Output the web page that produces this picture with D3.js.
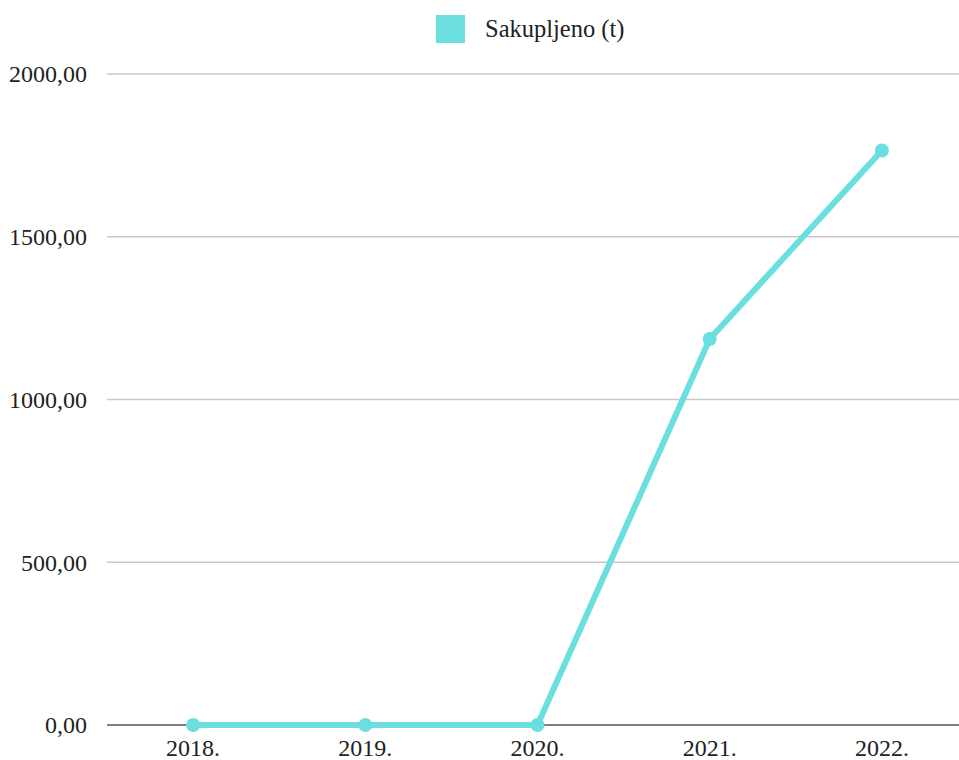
<!DOCTYPE html>
<html>
<head>
<meta charset="utf-8">
<script src="https://cdn.jsdelivr.net/npm/d3@7"></script>
<style>
  html, body { margin: 0; padding: 0; background: #fff; }
  svg { display: block; }
  text { font-family: "Liberation Serif", "Times New Roman", serif; fill: #222; }
</style>
</head>
<body>
<svg id="chart" width="959" height="760"></svg>
<script>
const categories = ["2018.", "2019.", "2020.", "2021.", "2022."];
const values = [0, 0, 0, 1186, 1765];
const yTicks = [0, 500, 1000, 1500, 2000];
const seriesName = "Sakupljeno (t)";
const color = "#6bdedf";

(function () {
const svg = d3.select("#chart");
const W = 959;
const plotLeft = 107, plotTop = 74, plotBottom = 725;
const serif = '"Liberation Serif", "Times New Roman", serif';

const x = d3.scaleBand().domain(categories).range([plotLeft, 968]);
const y = d3.scaleLinear().domain([0, 2000]).range([plotBottom, plotTop]);
const fmt = v => d3.format(".2f")(v).replace(".", ",");

// gridlines
svg.append("g")
  .selectAll("line")
  .data(yTicks.filter(d => d !== 0))
  .join("line")
  .attr("x1", plotLeft).attr("x2", W)
  .attr("y1", d => y(d)).attr("y2", d => y(d))
  .attr("stroke", "#c8c8c8").attr("stroke-width", 1.3);

// y axis labels
const yAxis = d3.axisLeft(y).tickValues(yTicks).tickFormat(fmt).tickSize(0).tickPadding(0);
const yg = svg.append("g").attr("transform", `translate(87,0)`).call(yAxis);
yg.attr("font-family", null);
yg.select(".domain").remove();
yg.selectAll("text").style("font-size", "24px").style("font-family", serif).attr("fill", "#222").attr("dy", "0.33em");

// x axis
const xAxis = d3.axisBottom(x).tickSize(0).tickPadding(0);
const xg = svg.append("g").attr("transform", `translate(0,${plotBottom})`).call(xAxis);
xg.attr("font-family", null);
xg.select(".domain").remove();
xg.selectAll("text").attr("dy", 0).attr("y", 31).style("font-size", "24px").style("font-family", serif).attr("fill", "#222");

// baseline
svg.append("line")
  .attr("x1", plotLeft).attr("x2", W)
  .attr("y1", y(0)).attr("y2", y(0))
  .attr("stroke", "#555").attr("stroke-width", 1.5);

// line
const line = d3.line()
  .x((d, i) => x(categories[i]) + x.bandwidth() / 2)
  .y(d => y(d));
svg.append("path")
  .datum(values)
  .attr("d", line)
  .attr("fill", "none")
  .attr("stroke", color)
  .attr("stroke-width", 6)
  .attr("stroke-linejoin", "round");

svg.append("g")
  .selectAll("circle")
  .data(values)
  .join("circle")
  .attr("cx", (d, i) => x(categories[i]) + x.bandwidth() / 2)
  .attr("cy", d => y(d))
  .attr("r", 7)
  .attr("fill", color);

// legend
const lg = svg.append("g");
lg.append("rect").attr("x", 436).attr("y", 15).attr("width", 29).attr("height", 28).attr("fill", color);
lg.append("text").attr("x", 485).attr("y", 37).style("font-size", "24.5px").style("font-family", serif).text(seriesName);
})();
</script>
</body>
</html>
